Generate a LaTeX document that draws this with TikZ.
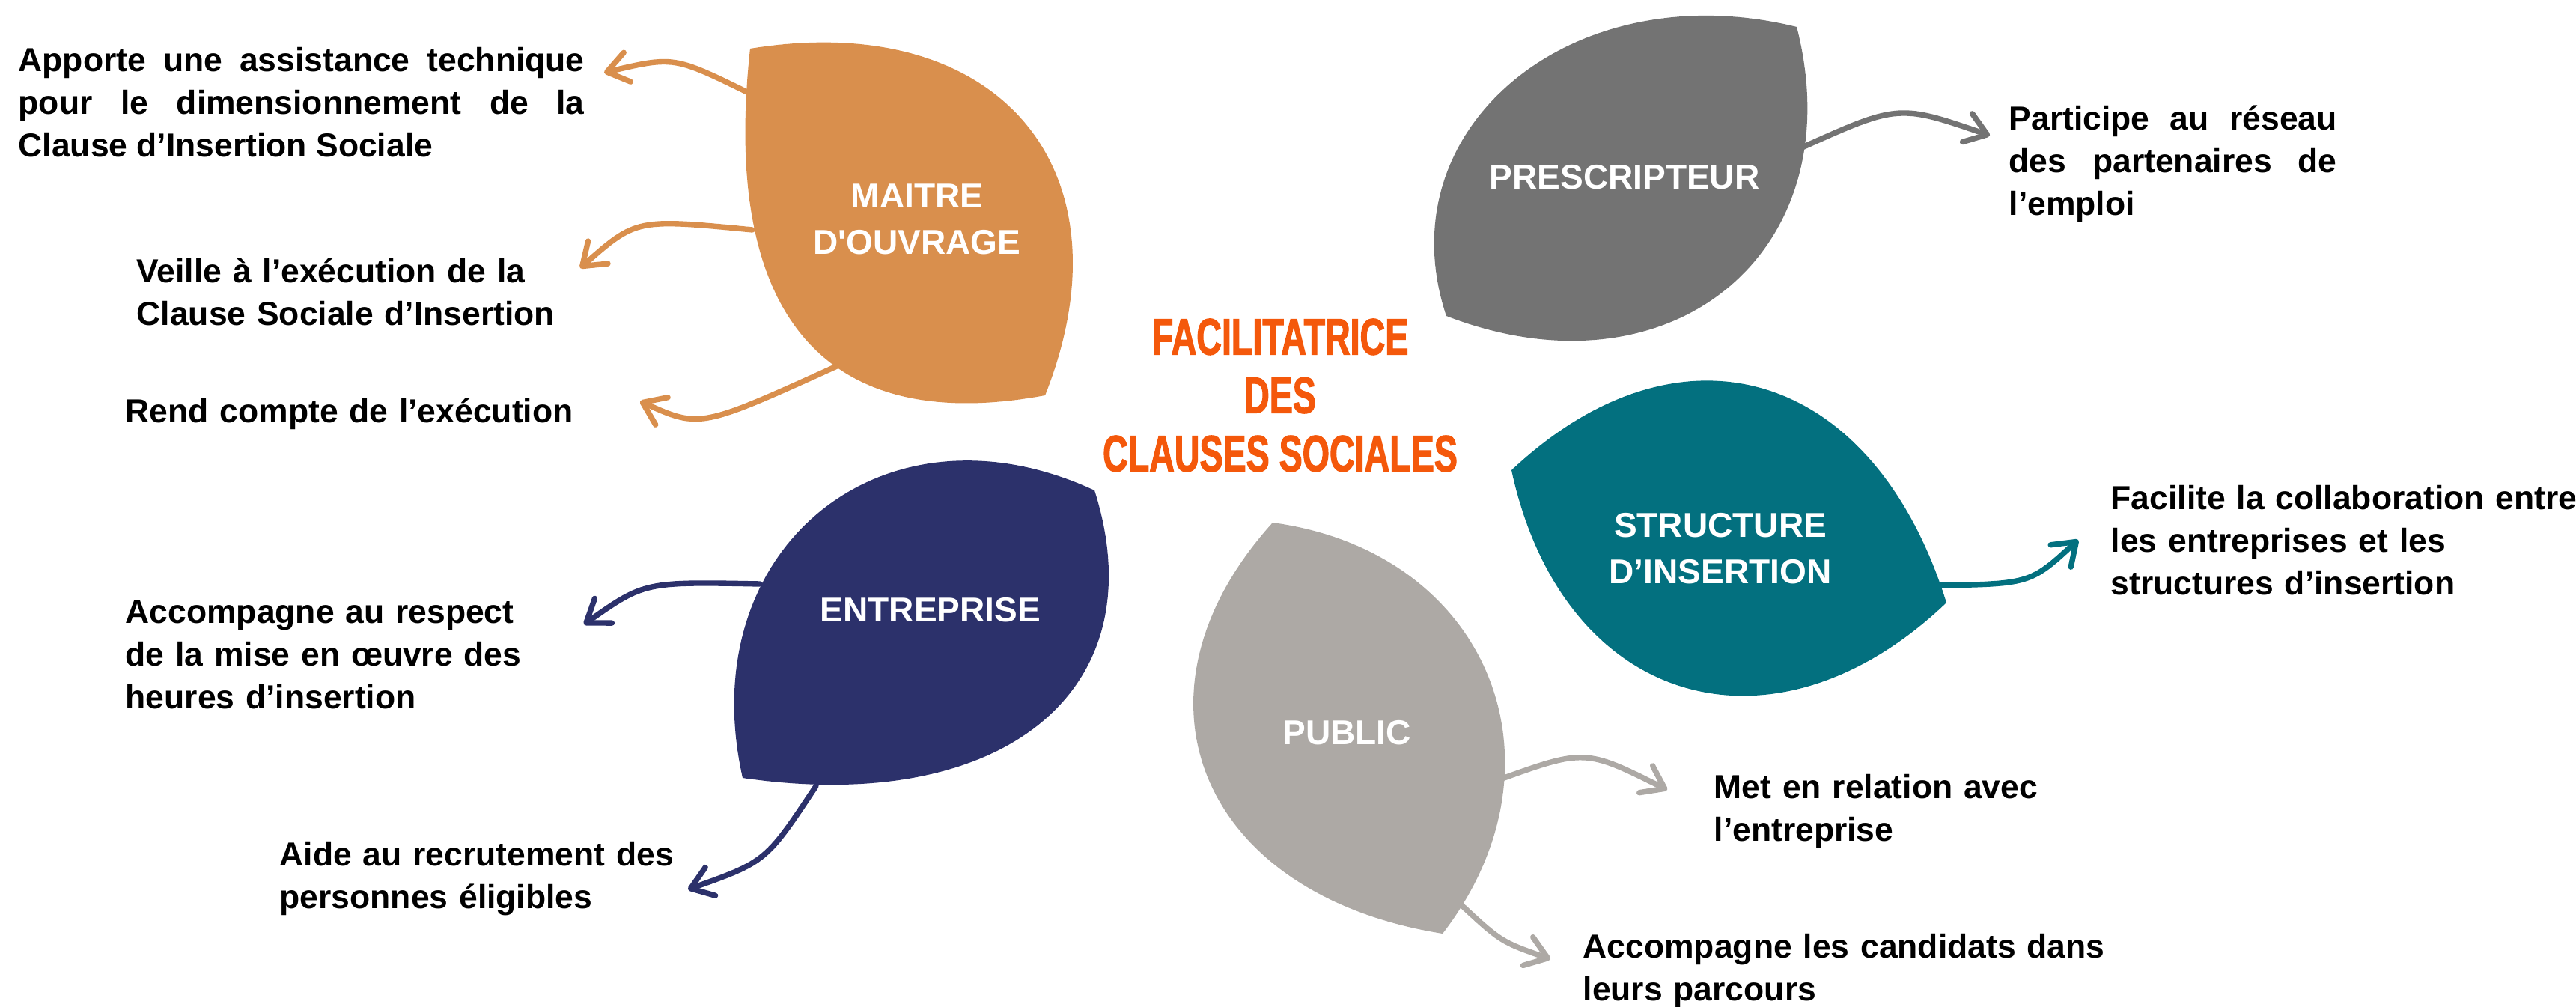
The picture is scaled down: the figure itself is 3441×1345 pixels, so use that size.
\documentclass[tikz,border=0pt]{standalone}
\usepackage{fontspec}
\setmainfont{Liberation Sans}
\newfontfamily\titlefont{Liberation Sans}[FakeStretch=0.68,FakeBold=1.6]
\definecolor{fcOrange}{HTML}{D98F4D}
\definecolor{fcNavy}{HTML}{2C316B}
\definecolor{fcGrey}{HTML}{737373}
\definecolor{fcTeal}{HTML}{03707F}
\definecolor{fcSand}{HTML}{ADA9A5}
\definecolor{fcTitle}{HTML}{F4580B}
\usetikzlibrary{arrows.meta}

\begin{document}
\begin{tikzpicture}[x=0.1mm,y=-0.1mm,
  txt/.style={anchor=north west,inner sep=0pt,text width=#1,align=left,
              font=\bfseries\fontsize{12.65pt}{16.2pt}\selectfont},
  lbl/.style={anchor=north,inner sep=0pt,align=center,text=white,
              font=\bfseries\fontsize{13.1pt}{17.6pt}\selectfont},
  arr/.style={draw=#1,line width=2.1pt,line cap=round,
              -{Straight Barb[length=2.8mm,width=4mm,round]}}]
\useasboundingbox (0,0) rectangle (3441,1345);

% arrow ends
\coordinate (mo1s) at (1000,124);  \coordinate (mo1e) at (807,97);
\coordinate (mo2s) at (1005,307);  \coordinate (mo2e) at (775,358);
\coordinate (mo3s) at (1120,488);  \coordinate (mo3e) at (855,536);
\coordinate (en1s) at (1015,780);  \coordinate (en1e) at (780,834);
\coordinate (en2s) at (1090,1050); \coordinate (en2e) at (919,1188);
\coordinate (pr1s) at (2405,198);  \coordinate (pr1e) at (2658,181);
\coordinate (si1s) at (2585,782);  \coordinate (si1e) at (2776,721);
\coordinate (pu1s) at (1998,1043); \coordinate (pu1e) at (2227,1055);
\coordinate (pu2s) at (1948,1205); \coordinate (pu2e) at (2071,1281);

\draw[arr=fcOrange] (mo1s) .. controls (900,75) .. (mo1e);
\draw[arr=fcOrange] (mo2s) .. controls (850,292) .. (mo2e);
\draw[arr=fcOrange] (mo3s) .. controls (935,572) .. (mo3e);
\draw[arr=fcNavy] (en1s) .. controls (861,777) .. (en1e);
\draw[arr=fcNavy] (en2s) .. controls (1023,1151) .. (en2e);
\draw[arr=fcGrey] (pr1s) .. controls (2536,139) .. (pr1e);
\draw[arr=fcTeal] (si1s) .. controls (2712,780) .. (si1e);
\draw[arr=fcSand] (pu1s) .. controls (2117,1000) .. (pu1e);
\draw[arr=fcSand] (pu2s) .. controls (2005,1258) .. (pu2e);

% leaves
\fill[fcOrange] (1002,65) .. controls (1333,11) and (1516,226) .. (1396,528)
  .. controls (1101,583) and (963,421) .. cycle;
\fill[fcNavy] (1462,655) .. controls (1180,524) and (923,733) .. (992,1039)
  .. controls (1340,1090) and (1547,922) .. cycle;
\fill[fcGrey] (2400,36) .. controls (2101,-38) and (1848,171) .. (1932,422)
  .. controls (2232,538) and (2477,336) .. cycle;
\fill[fcTeal] (2019,628) .. controls (2246,415) and (2503,494) .. (2600,805)
  .. controls (2367,1027) and (2087,942) .. cycle;
\fill[fcSand] (1700,698) .. controls (1987,737) and (2103,1018) .. (1927,1247)
  .. controls (1602,1195) and (1492,928) .. cycle;

% labels on the leaves
\node[lbl] (maitre) at (1225,245) {MAITRE\\D\textquotesingle OUVRAGE};
\node[lbl] (prescripteur) at (2170,220) {PRESCRIPTEUR};
\node[lbl] (entreprise) at (1243,798) {ENTREPRISE};
\node[lbl] (structure) at (2298,685) {STRUCTURE\\D’INSERTION};
\node[lbl] (public) at (1799,962) {PUBLIC};

\node[anchor=north,inner sep=0pt,align=center,text=fcTitle,
      font=\titlefont\bfseries\fontsize{19.5pt}{22.2pt}\selectfont]
  (titre) at (1710,425) {FACILITATRICE\\DES\\CLAUSES SOCIALES};

% texts
\node[txt=75.6mm,align=justify] (mo1) at (24,63)
  {Apporte une assistance technique pour le dimensionnement de la Clause d’Insertion Sociale};
\node[txt=80mm] (mo2) at (182,344) {Veille à l’exécution de la\\Clause Sociale d’Insertion};
\node[txt=80mm] (mo3) at (167,531) {Rend compte de l’exécution};
\node[txt=80mm] (en1) at (167,801) {Accompagne au respect\\de la mise en œuvre des\\heures d’insertion};
\node[txt=80mm] (en2) at (373,1124) {Aide au recrutement des\\personnes éligibles};
\node[txt=43.8mm,align=justify] (pr1) at (2683,140)
  {Participe au réseau des partenaires de l’emploi};
\node[txt=75mm] (si1) at (2819,648) {Facilite la collaboration entre\\les entreprises et les\\structures d’insertion};
\node[txt=80mm] (pu1) at (2289,1034) {Met en relation avec\\l’entreprise};
\node[txt=80mm] (pu2) at (2114,1247) {Accompagne les candidats dans\\leurs parcours};
\end{tikzpicture}
\end{document}
